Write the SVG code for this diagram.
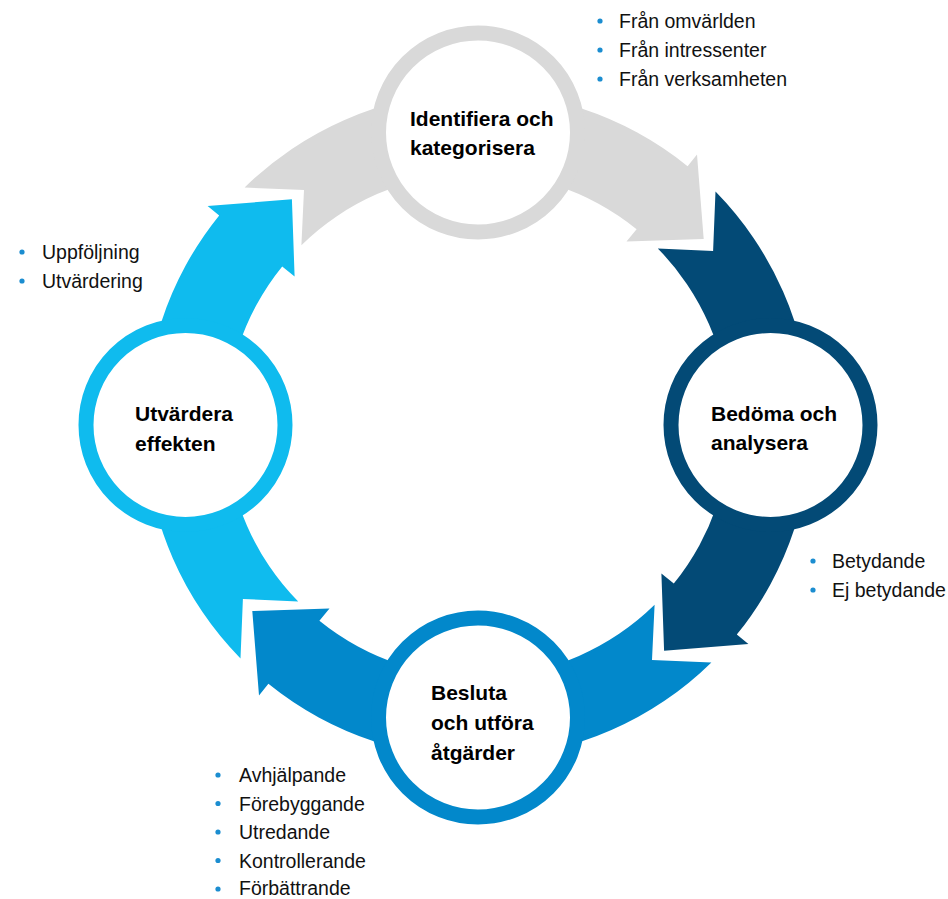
<svg xmlns="http://www.w3.org/2000/svg" width="948" height="899" viewBox="0 0 948 899">
<style>
.lbl{font-family:"Liberation Sans",Arial,sans-serif;font-weight:bold;font-size:21px;fill:#000}
.bl{font-family:"Liberation Sans",Arial,sans-serif;font-size:19.5px;fill:#111}
.dot{fill:#1B8DD0}
.ring{fill:#fff;stroke-width:15}
</style>
<defs>
<path id="arrow" d="M244.6,187.5 A333,333 0 0 1 687.6,166.2 L697.0,154.6 L703.7,238.9 L626.5,241.6 L636.6,229.2 A252,252 0 0 0 301.4,245.2 L304.0,189.9 Z"/>
</defs>
<rect width="948" height="899" fill="#fff"/>
<g id="connectors">
<use href="#arrow" fill="#D9D9D9"/>
<use href="#arrow" fill="#034A76" transform="rotate(90 478 425)"/>
<use href="#arrow" fill="#0288CB" transform="rotate(180 478 425)"/>
<use href="#arrow" fill="#0FBBEE" transform="rotate(270 478 425)"/>
</g>
<g id="node-identifiera">
<circle cx="478" cy="132.5" r="99.5" class="ring" stroke="#D9D9D9"/>
<text class="lbl"><tspan x="410" y="126">Identifiera och</tspan><tspan x="410" y="155">kategorisera</tspan></text>
</g>
<g id="node-bedoma">
<circle cx="770.5" cy="425" r="99.5" class="ring" stroke="#034A76"/>
<text class="lbl"><tspan x="711" y="421">Bedöma och</tspan><tspan x="711" y="450">analysera</tspan></text>
</g>
<g id="node-besluta">
<circle cx="478" cy="717.5" r="99.5" class="ring" stroke="#0288CB"/>
<text class="lbl"><tspan x="431" y="700">Besluta</tspan><tspan x="431" y="730">och utföra</tspan><tspan x="431" y="760">åtgärder</tspan></text>
</g>
<g id="node-utvardera">
<circle cx="185.5" cy="425" r="99.5" class="ring" stroke="#0FBBEE"/>
<text class="lbl"><tspan x="135" y="421">Utvärdera</tspan><tspan x="135" y="451">effekten</tspan></text>
</g>
<g id="list-top">
<circle class="dot" cx="600" cy="21" r="2.6"/><circle class="dot" cx="600" cy="50" r="2.6"/><circle class="dot" cx="600" cy="79" r="2.6"/>
<text class="bl"><tspan x="619" y="28">Från omvärlden</tspan><tspan x="619" y="57">Från intressenter</tspan><tspan x="619" y="86">Från verksamheten</tspan></text>
</g>
<g id="list-right">
<circle class="dot" cx="813" cy="561" r="2.6"/><circle class="dot" cx="813" cy="590" r="2.6"/>
<text class="bl"><tspan x="832" y="568">Betydande</tspan><tspan x="832" y="597">Ej betydande</tspan></text>
</g>
<g id="list-left">
<circle class="dot" cx="22" cy="252" r="2.6"/><circle class="dot" cx="22" cy="281" r="2.6"/>
<text class="bl"><tspan x="42" y="259">Uppföljning</tspan><tspan x="42" y="288">Utvärdering</tspan></text>
</g>
<g id="list-bottom">
<circle class="dot" cx="218" cy="775" r="2.6"/><circle class="dot" cx="218" cy="803.5" r="2.6"/><circle class="dot" cx="218" cy="832" r="2.6"/><circle class="dot" cx="218" cy="860.5" r="2.6"/><circle class="dot" cx="218" cy="889" r="2.6"/>
<text class="bl"><tspan x="239" y="782">Avhjälpande</tspan><tspan x="239" y="810.5">Förebyggande</tspan><tspan x="239" y="839">Utredande</tspan><tspan x="239" y="867.5">Kontrollerande</tspan><tspan x="239" y="895">Förbättrande</tspan></text>
</g>
</svg>
